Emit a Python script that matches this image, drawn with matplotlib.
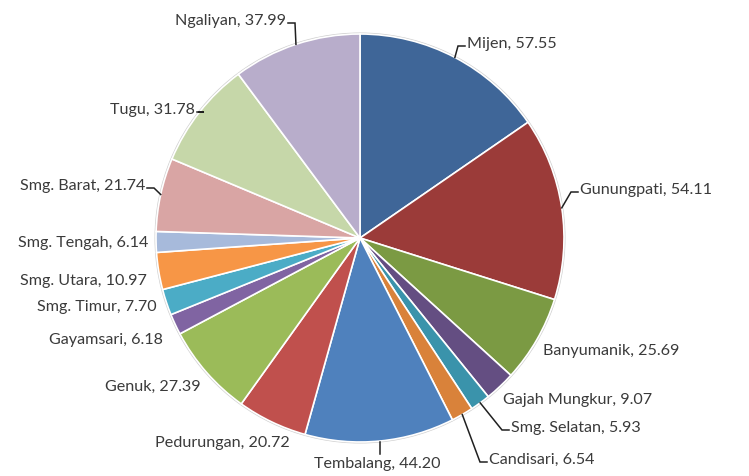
import numpy as np
import matplotlib
matplotlib.use("Agg")
import matplotlib.pyplot as plt

names = ["Mijen", "Gunungpati", "Banyumanik", "Gajah Mungkur", "Smg. Selatan",
         "Candisari", "Tembalang", "Pedurungan", "Genuk", "Gayamsari",
         "Smg. Timur", "Smg. Utara", "Smg. Tengah", "Smg. Barat", "Tugu", "Ngaliyan"]
values = [57.55, 54.11, 25.69, 9.07, 5.93, 6.54, 44.20, 20.72, 27.39, 6.18,
          7.70, 10.97, 6.14, 21.74, 31.78, 37.99]
value_labels = ["57.55", "54.11", "25.69", "9.07", "5.93", "6.54", "44.20", "20.72",
                "27.39", "6.18", "7.70", "10.97", "6.14", "21.74", "31.78", "37.99"]

colors = ["#3F6698", "#9B3B39", "#7B9A43", "#644E82", "#3A93AB", "#D9823A",
          "#4F81BD", "#C0504D", "#9BBB59", "#8064A2", "#4BACC6", "#F79646",
          "#A7BADB", "#D9A5A4", "#C6D7A9", "#B8ADCB"]

# label layout (image pixel coords): anchor x, center y, alignment, leader?
lab_x = [467, 580, 543, 503, 511, 489, 377, 290, 201, 163, 157, 147, 148, 145, 195, 286]
lab_y = [44, 190, 351, 400, 428, 460, 464, 443, 387, 340, 307, 281, 243, 186, 110, 21]
lab_ha = ["left", "left", "left", "left", "left", "left", "center", "right", "right",
          "right", "right", "right", "right", "right", "right", "right"]
leader = [True, True, False, False, True, True, True, False, False, False,
          False, False, False, True, True, True]

W, H = 749, 476
fig = plt.figure(figsize=(W / 100, H / 100), dpi=100)
ax = fig.add_axes([0, 0, 1, 1])

cx, cy, R = 360, H - 238, 204
wedges, _ = ax.pie(values, colors=colors, startangle=90, counterclock=False,
                   center=(cx, cy), radius=R, frame=True,
                   wedgeprops=dict(edgecolor="white", linewidth=1.2))
ax.set_xlim(0, W)
ax.set_ylim(0, H)
ax.set_aspect("equal")
ax.axis("off")

circ = plt.Circle((cx, cy), R + 0.8, fill=False, edgecolor="#d0d0d0", linewidth=1.0, zorder=0)
ax.add_patch(circ)

font = "Lato"
fs = 11.6
for i, w in enumerate(wedges):
    ang = np.deg2rad((w.theta1 + w.theta2) / 2)
    ex, ey = cx + R * np.cos(ang), cy + R * np.sin(ang)
    tx, ty = lab_x[i], H - lab_y[i]
    txt = f"{names[i]}, {value_labels[i]}"
    if lab_ha[i] == "center":
        ax.text(tx, ty, txt, ha="center", va="center", fontsize=fs,
                color="#3a3a3a", family=font)
        if leader[i]:
            ax.plot([ex, ex], [ey - 1, ty + 10], color="#202020", lw=1.1)
        continue
    ax.text(tx, ty, txt, ha=lab_ha[i], va="center", fontsize=fs,
            color="#3a3a3a", family=font)
    if leader[i]:
        sgn = -1 if lab_ha[i] == "left" else 1
        ax0 = tx + sgn * 2
        elx = tx + sgn * 9
        ax.plot([ex, elx, ax0], [ey, ty - 2, ty - 2], color="#202020", lw=1.1,
                solid_joinstyle="miter")

fig.savefig("out.png", dpi=100)
